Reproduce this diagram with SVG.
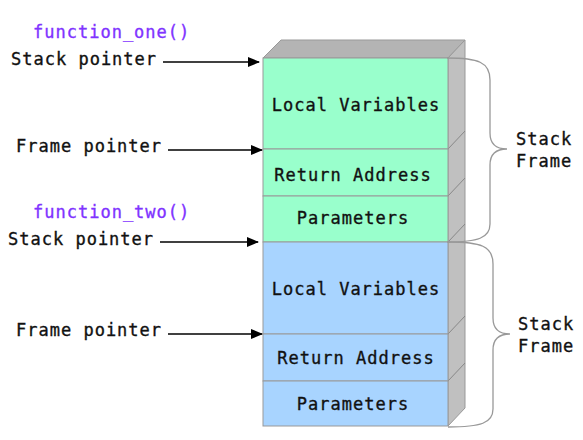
<svg xmlns="http://www.w3.org/2000/svg" width="583" height="440" viewBox="0 0 583 440">
<style>
text{font-family:"DejaVu Sans Mono","Liberation Mono",monospace;font-size:17px;letter-spacing:1px;fill:#111;stroke:#111;stroke-width:0.35}
.fn{fill:#8033ff;stroke:#8033ff}
.mid{text-anchor:middle}
.g{fill:#99ffcc;stroke:#999;stroke-width:1}
.b{fill:#a8d4ff;stroke:#999;stroke-width:1}
.side{fill:#c0c0c0;stroke:#999;stroke-width:1}
.top{fill:#b4b4b4;stroke:#999;stroke-width:1}
.dl{stroke:#888;stroke-width:1;fill:none}
.brace{stroke:#999;stroke-width:1.3;fill:none}
.arr{stroke:#000;stroke-width:1.3;fill:none;marker-end:url(#ah)}
</style>
<defs>
<marker id="ah" markerWidth="12" markerHeight="10" refX="11" refY="5" orient="auto" markerUnits="userSpaceOnUse">
<path d="M0,0 L12,5 L0,10 Z" fill="#000"/>
</marker>
</defs>
<rect width="583" height="440" fill="#fff"/>
<g id="block3d">
<polygon class="top" points="263,58 281,40 465,40 448,58"/>
<polygon class="side" points="448,58 465,40 465,408 448,426"/>
<path class="dl" d="M448,149 L465,131 M448,196 L465,178 M448,242 L465,224 M448,334 L465,316 M448,381 L465,363"/>
</g>
<g id="f1-local"><rect class="g" x="263" y="58" width="185" height="91"/><text class="mid" x="356" y="111">Local Variables</text></g>
<g id="f1-ret"><rect class="g" x="263" y="149" width="185" height="47"/><text class="mid" x="353" y="181">Return Address</text></g>
<g id="f1-param"><rect class="g" x="263" y="196" width="185" height="46"/><text class="mid" x="353" y="224">Parameters</text></g>
<g id="f2-local"><rect class="b" x="263" y="242" width="185" height="92"/><text class="mid" x="356" y="295">Local Variables</text></g>
<g id="f2-ret"><rect class="b" x="263" y="334" width="185" height="47"/><text class="mid" x="356" y="364">Return Address</text></g>
<g id="f2-param"><rect class="b" x="263" y="381" width="185" height="45"/><text class="mid" x="353" y="410">Parameters</text></g>
<g id="labels">
<text class="fn" x="33" y="38">function_one()</text>
<text x="11" y="65">Stack pointer</text>
<text x="16" y="152">Frame pointer</text>
<text class="fn" x="33" y="218">function_two()</text>
<text x="8" y="245">Stack pointer</text>
<text x="16" y="336">Frame pointer</text>
<text x="516" y="145">Stack</text>
<text x="516" y="167">Frame</text>
<text x="518" y="330">Stack</text>
<text x="518" y="352">Frame</text>
</g>
<g id="connectors">
<line class="arr" x1="163" y1="62" x2="259" y2="62"/>
<line class="arr" x1="168" y1="150" x2="262" y2="150"/>
<line class="arr" x1="160" y1="242" x2="258" y2="242"/>
<line class="arr" x1="168" y1="334" x2="262" y2="334"/>
<path class="brace" d="M447,58 C478,58 490,62 490,80 L490,133 C490,145 497,149 507,149 C497,149 490,153 490,165 L490,224 C490,238 478,242 447,242"/>
<path class="brace" d="M448,242 C481,242 493,246 493,264 L493,318 C493,330 500,334 510,334 C500,334 493,338 493,350 L493,409 C493,423 481,427 448,427"/>
</g>
</svg>
